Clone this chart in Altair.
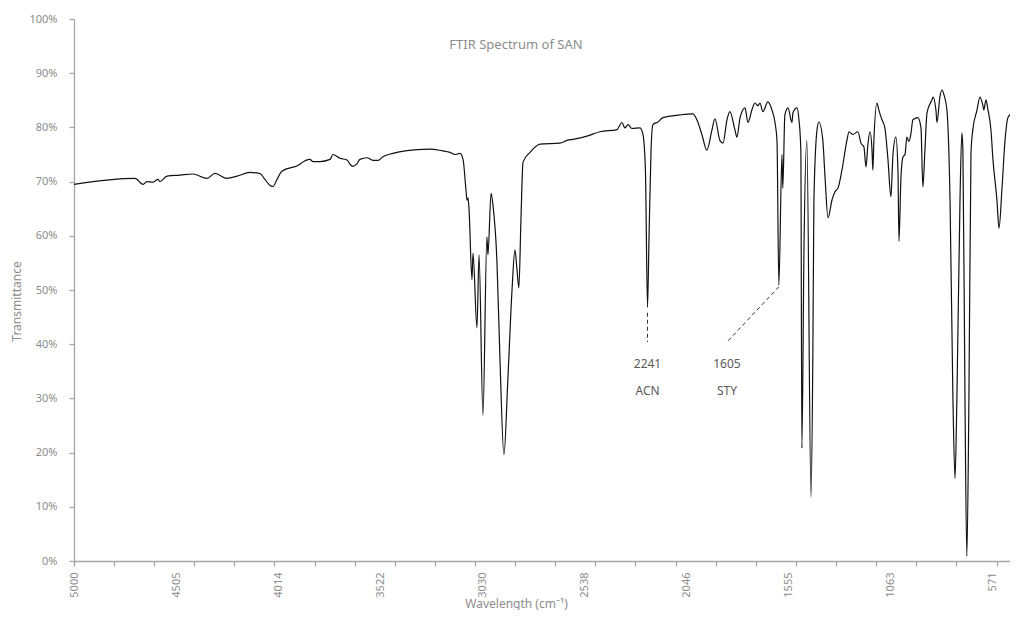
import altair as alt
import pandas as pd

# ---- spectrum values ----
wavenumber = [5000, 4706, 4667, 4648, 4619, 4595, 4586, 4552, 4489, 4427, 4359, 4320, 4263, 4214,
              4152, 4104, 4080, 4055, 4041, 4022, 3998, 3911, 3901, 3863, 3848, 3814, 3766, 3752,
              3718, 3684, 3670, 3655, 3636, 3622, 3588, 3559, 3535, 3511, 3463, 3395, 3347, 3284,
              3227, 3188, 3164, 3140, 3125, 3111, 3106, 3101, 3096, 3082, 3077, 3058, 3048, 3029,
              3010, 3005, 2990, 2981, 2962, 2947, 2928, 2909, 2889, 2875, 2865, 2856, 2846, 2836,
              2802, 2754, 2658, 2624, 2595, 2528, 2465, 2383, 2359, 2345, 2330, 2311, 2272, 2258,
              2246, 2236, 2229, 2219, 2210, 2186, 2162, 2080, 2017, 1998, 1974, 1950, 1925, 1911,
              1887, 1872, 1853, 1839, 1815, 1805, 1790, 1766, 1752, 1733, 1718, 1704, 1694, 1680,
              1656, 1636, 1622, 1612, 1603, 1588, 1584, 1574, 1559, 1540, 1535, 1516, 1506, 1497,
              1492, 1482, 1468, 1448, 1439, 1434, 1419, 1410, 1391, 1381, 1366, 1347, 1333, 1318,
              1299, 1275, 1265, 1246, 1222, 1207, 1193, 1183, 1174, 1164, 1154, 1150, 1145, 1130,
              1121, 1106, 1092, 1077, 1063, 1053, 1039, 1029, 1024, 1015, 1005, 995, 986, 976,
              967, 957, 933, 918, 909, 899, 889, 865, 860, 846, 841, 827, 817, 807, 793, 778, 764,
              754, 745, 730, 721, 716, 706, 697, 687, 677, 668, 648, 634, 620, 615, 605, 595, 581,
              571, 552, 542, 528, 513, 499, 480, 465, 456]
transmittance = [69.5, 70.6, 69.5, 70.0, 69.9, 70.4, 70.0, 71.0, 71.2, 71.4, 70.6, 71.5, 70.6, 71.0,
                 71.7, 71.5, 70.4, 69.3, 69.1, 70.4, 71.9, 73.2, 73.5, 74.1, 73.7, 73.7, 74.1, 75.0,
                 74.3, 74.0, 73.2, 72.8, 73.3, 74.1, 74.4, 73.9, 73.9, 74.6, 75.2, 75.7, 75.9, 76.0,
                 75.7, 75.4, 75.0, 75.2, 74.1, 68.5, 66.6, 67.0, 64.8, 51.9, 56.8, 43.0, 56.5, 26.9,
                 59.8, 56.5, 67.9, 65.7, 55.6, 37.1, 19.6, 33.5, 50.0, 57.4, 53.7, 50.4, 62.9, 73.6,
                 75.4, 76.9, 77.1, 77.6, 77.8, 78.4, 79.2, 79.6, 80.9, 79.9, 80.5, 79.8, 79.9, 78.7,
                 72.1, 46.8, 59.2, 75.8, 80.5, 81.0, 81.8, 82.3, 82.5, 81.4, 78.7, 75.8, 79.6, 81.6,
                 77.6, 77.1, 81.4, 82.9, 79.6, 78.2, 81.8, 83.6, 80.9, 83.2, 84.5, 84.0, 84.5, 82.9,
                 84.7, 83.2, 81.0, 77.6, 50.9, 75.0, 68.8, 82.3, 83.6, 80.9, 82.7, 83.6, 81.4, 75.8,
                 20.8, 57.4, 77.6, 11.8, 39.0, 66.6, 79.6, 81.0, 77.6, 71.2, 63.3, 66.6, 68.1, 68.8,
                 72.1, 77.6, 79.2, 78.7, 79.2, 77.1, 76.4, 72.7, 76.8, 79.2, 75.8, 72.1, 77.6, 84.5,
                 83.2, 81.4, 79.9, 74.0, 67.2, 75.0, 78.2, 72.1, 59.0, 70.3, 74.5, 75.0, 78.2, 77.4,
                 78.7, 81.4, 81.8, 79.9, 69.0, 75.8, 82.7, 85.1, 85.6, 83.2, 80.9, 85.6, 86.9, 86.0,
                 83.2, 66.6, 29.9, 15.2, 29.9, 66.6, 79.0, 75.8, 29.9, 0.9, 29.9, 75.4, 79.6, 83.2,
                 85.6, 84.1, 83.2, 85.1, 83.2, 79.6, 74.0, 66.6, 61.4, 68.5, 77.6, 81.8, 82.7, 84.1,
                 85.6]

# axis labels and minor tick positions (category-style axis of the original)
label_values = [5000, 4505, 4014, 3522, 3030, 2538, 2046, 1555, 1063, 571]
tick_values = [5000, 4807, 4613, 4420, 4227, 4034, 3840, 3647, 3454, 3260, 3067, 2874,
               2680, 2487, 2294, 2100, 1907, 1714, 1521, 1327, 1134, 941, 747, 554]
y_ticks = [0, 10, 20, 30, 40, 50, 60, 70, 80, 90, 100]
x_domain = [489, 5000]   # visible part of the axis (the original is cut at the right edge)

# annotations
ann_wn = [2236, 1853]
ann_number = ["2241", "1605"]
ann_group = ["ACN", "STY"]
ann_number_t = [36.3, 36.3]
ann_group_t = [31.4, 31.4]
leader_x = [2236, 1603]
leader_x2 = [2236, 1853]
leader_y = [45.8, 50.6]
leader_y2 = [40.4, 40.4]

chart_title = "FTIR Spectrum of SAN"
title_wn = [2870]
title_t = [95.2]

FONT = "Noto Sans"
GRAY = "#a6a6a6"
LABEL = "#8c8c8c"

df = pd.DataFrame({"wn": wavenumber, "T": transmittance})
ann_df = pd.DataFrame({"wn": ann_wn, "num": ann_number, "grp": ann_group,
                       "tn": ann_number_t, "tg": ann_group_t})
leader_df = pd.DataFrame({"x": leader_x, "x2": leader_x2, "y": leader_y, "y2": leader_y2})
title_df = pd.DataFrame({"wn": title_wn, "T": title_t, "txt": [chart_title]})

xscale = alt.Scale(domain=x_domain, reverse=True, nice=False, zero=False)
yscale = alt.Scale(domain=[0, 100], nice=False, zero=True)

yaxis = alt.Axis(values=y_ticks, labelExpr="datum.value + '%'", grid=False,
                 tickSize=5, tickColor=GRAY, domainColor=GRAY, domainWidth=1.3,
                 tickWidth=1.3, labelPadding=12, labelFontSize=11, labelColor=LABEL,
                 labelFont=FONT, title="Transmittance", titleFont=FONT,
                 titleFontSize=12, titleFontWeight="normal", titleColor=LABEL,
                 titleX=-58, titleY=282, titleBaseline="middle", titleAlign="center")

line = alt.Chart(df).mark_line(color="#111111", strokeWidth=1.2, interpolate="monotone").encode(
    x=alt.X("wn:Q", scale=xscale,
            axis=alt.Axis(values=label_values, format="d", labelAngle=-90, ticks=False,
                          tickSize=0, domain=False, grid=False, labelPadding=11,
                          labelFontSize=11, labelColor=LABEL, labelFont=FONT,
                          title="Wavelength (cm⁻¹)", titleFont=FONT, titleFontSize=12,
                          titleFontWeight="normal", titleColor=LABEL,
                          titleX=442, titleY=42, titleBaseline="middle", orient="bottom")),
    y=alt.Y("T:Q", scale=yscale, axis=yaxis),
)

leaders = alt.Chart(leader_df).mark_rule(color="#333333", strokeWidth=1, strokeDash=[4, 3]).encode(
    x=alt.X("x:Q", scale=xscale,
            axis=alt.Axis(values=tick_values, labels=False, ticks=True, tickSize=5,
                          tickColor=GRAY, tickWidth=1.3, domain=True, domainColor=GRAY,
                          domainWidth=1.3, grid=False, title=None, orient="bottom")),
    x2="x2:Q",
    y=alt.Y("y:Q", scale=yscale, axis=yaxis),
    y2="y2:Q",
)

num_text = alt.Chart(ann_df).mark_text(font=FONT, fontSize=12, color="#595959",
                                       baseline="middle", align="center").encode(
    x=alt.X("wn:Q", scale=xscale, axis=None),
    y=alt.Y("tn:Q", scale=yscale, axis=yaxis),
    text="num:N",
)
grp_text = alt.Chart(ann_df).mark_text(font=FONT, fontSize=12, color="#595959",
                                       baseline="middle", align="center").encode(
    x=alt.X("wn:Q", scale=xscale, axis=None),
    y=alt.Y("tg:Q", scale=yscale, axis=yaxis),
    text="grp:N",
)
title_text = alt.Chart(title_df).mark_text(font=FONT, fontSize=13, color="#8c8c8c",
                                           baseline="middle", align="center").encode(
    x=alt.X("wn:Q", scale=xscale, axis=None),
    y=alt.Y("T:Q", scale=yscale, axis=yaxis),
    text="txt:N",
)

chart = alt.layer(line, leaders, num_text, grp_text, title_text).resolve_axis(
    x="independent"
).properties(
    width=936, height=542,
    autosize=alt.AutoSizeParams(type="none"),
    padding={"left": 66, "top": 11, "right": 0, "bottom": 49},
    background="white",
).configure_view(stroke=None)

chart.save("out.html", embed_options={"renderer": "svg", "actions": False})
